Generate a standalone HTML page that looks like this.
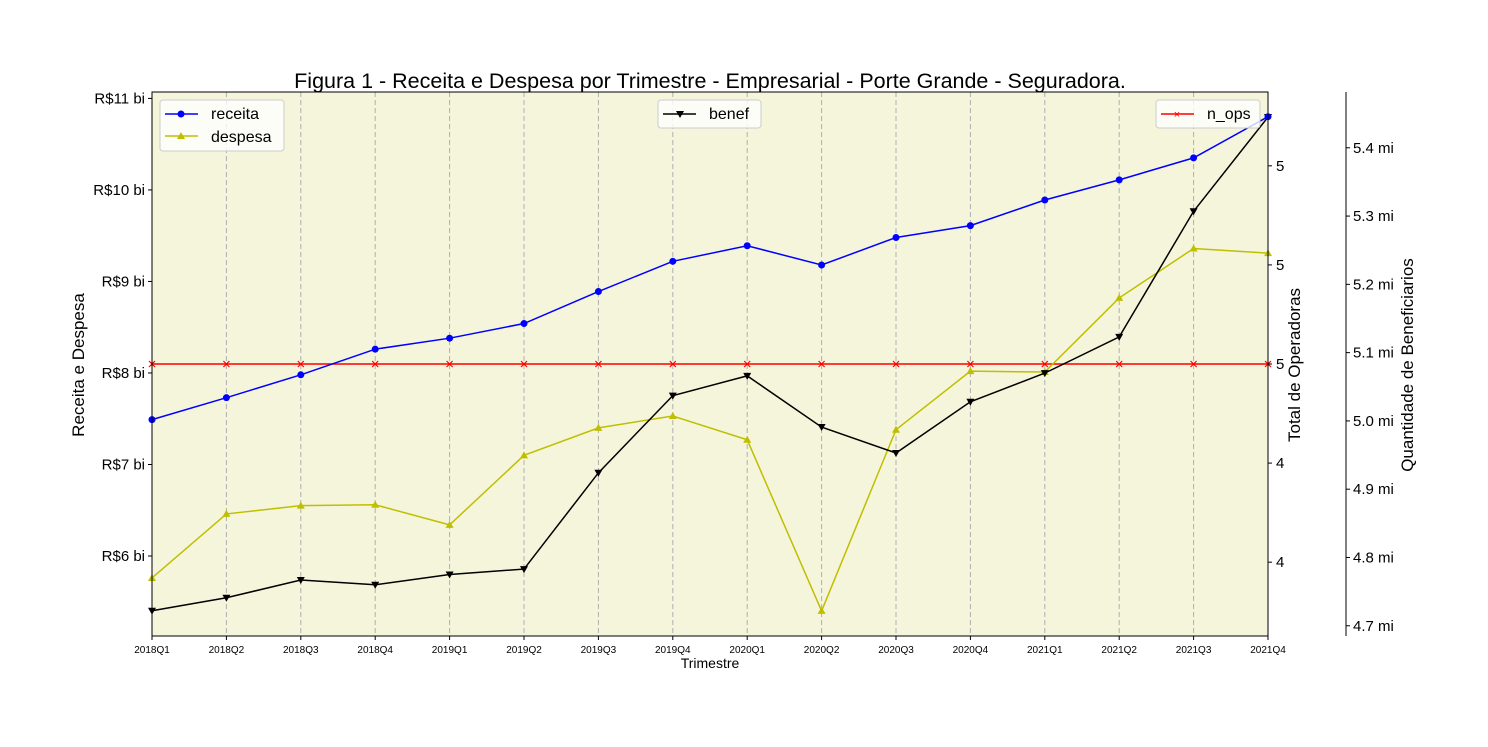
<!DOCTYPE html>
<html><head><meta charset="utf-8"><style>
body{margin:0;background:#fff;}
svg text{font-family:"Liberation Sans","DejaVu Sans",sans-serif;}
</style></head><body>
<svg id="chart" width="1488" height="742" xmlns="http://www.w3.org/2000/svg">
<text x="710" y="88" font-size="21.5" text-anchor="middle">Figura 1 - Receita e Despesa por Trimestre - Empresarial - Porte Grande - Seguradora.</text>
<rect x="152" y="92" width="1116" height="544" fill="#f5f5dc"/>
<g id="grid"></g>
<g id="series"></g>
<rect x="152" y="92" width="1116" height="544" fill="none" stroke="#000" stroke-width="1"/>
<line x1="1346" y1="92" x2="1346" y2="636" stroke="#000"/>
<g id="axes"></g>
<text transform="translate(84,365) rotate(-90)" font-size="17" text-anchor="middle">Receita e Despesa</text>
<text transform="translate(1300,365) rotate(-90)" font-size="17" text-anchor="middle">Total de Operadoras</text>
<text transform="translate(1413,365) rotate(-90)" font-size="17" text-anchor="middle">Quantidade de Beneficiarios</text>
<text x="710" y="668" font-size="14" text-anchor="middle">Trimestre</text>
<g>
<rect x="160" y="100" width="124" height="51" rx="3" fill="#fff" fill-opacity="0.8" stroke="#ccc"/>
<line x1="165" y1="114" x2="198" y2="114" stroke="#00f" stroke-width="1.5"/><circle cx="181" cy="114" r="3.5" fill="#00f"/>
<text x="211" y="119" font-size="16">receita</text>
<line x1="165" y1="136" x2="198" y2="136" stroke="#bfbf00" stroke-width="1.5"/><polygon points="181,132 185,139 177,139" fill="#bfbf00"/>
<text x="211" y="142" font-size="16">despesa</text>
</g>
<g>
<rect x="658" y="100" width="103" height="28" rx="3" fill="#fff" fill-opacity="0.8" stroke="#ccc"/>
<line x1="663" y1="114" x2="696" y2="114" stroke="#000" stroke-width="1.5"/><polygon points="676,111 684,111 680,118" fill="#000"/>
<text x="709" y="119" font-size="16">benef</text>
</g>
<g>
<rect x="1156" y="100" width="104" height="28" rx="3" fill="#fff" fill-opacity="0.8" stroke="#ccc"/>
<line x1="1161" y1="114" x2="1194" y2="114" stroke="#f00" stroke-width="1.5"/><text x="1177" y="118" font-size="11" fill="#f00" text-anchor="middle">×</text>
<text x="1207" y="119" font-size="16">n_ops</text>
</g>
</svg>
<script>
const categories=["2018Q1","2018Q2","2018Q3","2018Q4","2019Q1","2019Q2","2019Q3","2019Q4","2020Q1","2020Q2","2020Q3","2020Q4","2021Q1","2021Q2","2021Q3","2021Q4"];
const receita=[7.49,7.73,7.98,8.26,8.38,8.54,8.89,9.22,9.39,9.18,9.48,9.61,9.89,10.11,10.35,10.80];
const despesa=[5.76,6.46,6.55,6.56,6.34,7.10,7.40,7.53,7.27,5.40,7.38,8.02,8.01,8.82,9.36,9.31];
const benef=[4.722,4.741,4.767,4.760,4.775,4.783,4.924,5.037,5.066,4.991,4.953,5.028,5.070,5.123,5.307,5.445];
const nOps=[5,5,5,5,5,5,5,5,5,5,5,5,5,5,5,5];
const leftTicks=[6,7,8,9,10,11];
const opsTicks=[4.6,4.8,5.0,5.2,5.4];
const benefTicks=[4.7,4.8,4.9,5.0,5.1,5.2,5.3,5.4];
const NS="http://www.w3.org/2000/svg";
const X0=152,X1=1268,Y0=636,Y1=92;
const xs=i=>X0+i*(X1-X0)/(categories.length-1);
const yL=v=>Y0-(v-5.126)/(11.07-5.126)*(Y0-Y1);
const yO=v=>Y0-(v-4.451)/(5.549-4.451)*(Y0-Y1);
const yB=v=>Y0-(v-4.685)/(5.4817-4.685)*(Y0-Y1);
function mk(tag,attrs,parent){const e=document.createElementNS(NS,tag);for(const k in attrs)e.setAttribute(k,attrs[k]);parent.appendChild(e);return e;}
const grid=document.getElementById('grid'),ser=document.getElementById('series'),ax=document.getElementById('axes');
categories.forEach((c,i)=>{
  const g=mk('line',{x1:xs(i),x2:xs(i),y1:Y1,y2:Y0,stroke:'#b0b0b0','stroke-dasharray':'5,3'},grid);
  
  
  mk('line',{x1:xs(i),x2:xs(i),y1:Y0,y2:Y0+4,stroke:'#000'},ax);
  const t=mk('text',{x:xs(i),y:Y0+17,'font-size':10,'text-anchor':'middle'},ax);t.textContent=c;
  
  
});
leftTicks.forEach(v=>{const y=yL(v);mk('line',{x1:X0-4,x2:X0,y1:y,y2:y,stroke:'#000'},ax);
  const t=mk('text',{x:X0-7,y:y+5,'font-size':15,'text-anchor':'end'},ax);t.textContent='R$'+v+' bi';
  
  });
opsTicks.forEach(v=>{const y=yO(v);mk('line',{x1:X1,x2:X1+4,y1:y,y2:y,stroke:'#000'},ax);
  const t=mk('text',{x:X1+8,y:y+5,'font-size':15},ax);t.textContent=String(Math.floor(v+1e-9));
  
  });
benefTicks.forEach(v=>{const y=yB(v);mk('line',{x1:1346,x2:1350,y1:y,y2:y,stroke:'#000'},ax);
  const t=mk('text',{x:1353,y:y+5,'font-size':15},ax);t.textContent=v.toFixed(1)+' mi';
  
  });
function line(vals,yf,color,name,marker){
  const p=mk('polyline',{points:vals.map((v,i)=>xs(i)+','+yf(v)).join(' '),fill:'none',stroke:color,'stroke-width':1.5},ser);
  
  
  vals.forEach((v,i)=>{const x=xs(i),y=yf(v);let m;
    if(marker==='o')m=mk('circle',{cx:x,cy:y,r:3.5,fill:color},ser);
    else if(marker==='^')m=mk('polygon',{points:`${x},${y-4} ${x+4},${y+3} ${x-4},${y+3}`,fill:color},ser);
    else if(marker==='v')m=mk('polygon',{points:`${x-4},${y-3} ${x+4},${y-3} ${x},${y+4}`,fill:color},ser);
    else m=mk('path',{d:`M${x-3},${y-3}L${x+3},${y+3}M${x-3},${y+3}L${x+3},${y-3}`,stroke:color,'stroke-width':1.2},ser);
    
    });
}
line(nOps,yO,'#ff0000','n-ops','x');
line(despesa,yL,'#bfbf00','despesa','^');
line(benef,yB,'#000000','benef','v');
line(receita,yL,'#0000ff','receita','o');
</script>
</body></html>
